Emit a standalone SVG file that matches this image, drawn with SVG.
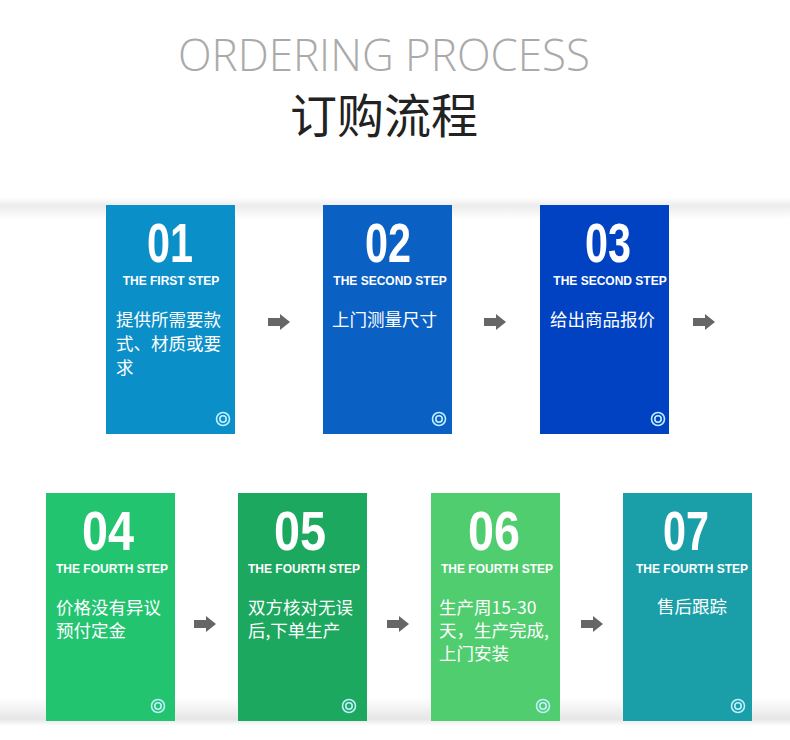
<svg xmlns="http://www.w3.org/2000/svg" width="790" height="740" viewBox="0 0 790 740">
<defs>
<linearGradient id="topShadow" x1="0" y1="0" x2="0" y2="1">
<stop offset="0" stop-color="#ffffff"/>
<stop offset="0.4" stop-color="#ececec"/>
<stop offset="1" stop-color="#ffffff"/>
</linearGradient>
<linearGradient id="botShadow" x1="0" y1="0" x2="0" y2="1">
<stop offset="0" stop-color="#ffffff"/>
<stop offset="0.75" stop-color="#e6e6e6"/>
<stop offset="1" stop-color="#ffffff"/>
</linearGradient>
<g id="arrow"><path d="M-11,-4 H1 V-8 L11,0 L1,8 V4 H-11 Z" fill="#666666"/></g>
<g id="ring"><circle r="6.5" fill="none" stroke="#bff0ff" stroke-width="1.6"/><circle r="3.2" fill="none" stroke="#bff0ff" stroke-width="1.6"/></g>
</defs>
<style>
.num{font-family:"Liberation Sans","DejaVu Sans",sans-serif;font-weight:bold;font-size:56px;fill:#ffffff;text-anchor:middle}
.step{font-family:"Liberation Sans",Arial,sans-serif;font-weight:bold;font-size:12px;fill:#ffffff;text-anchor:middle}
.body{font-family:"Noto Sans CJK SC","Noto Sans",sans-serif;font-size:17.5px;fill:#ffffff}
</style>
<rect width="790" height="740" fill="#ffffff"/>
<rect x="0" y="197" width="790" height="22" fill="url(#topShadow)"/>
<rect x="0" y="698" width="790" height="28" fill="url(#botShadow)"/>
<text x="384" y="71" font-family="'Open Sans','Noto Sans',sans-serif" font-weight="300" font-size="45" fill="#aaaaaa" text-anchor="middle" textLength="412" lengthAdjust="spacingAndGlyphs">ORDERING PROCESS</text>
<text x="384" y="133" font-family="'Noto Sans CJK SC',sans-serif" font-size="47" fill="#222222" text-anchor="middle">订购流程</text>

<g id="step1">
<rect x="106" y="205" width="129" height="229" fill="#0b8fc9"/>
<text class="num" x="170" y="262" textLength="46" lengthAdjust="spacingAndGlyphs">01</text>
<text class="step" x="171" y="285">THE FIRST STEP</text>
<text class="body"><tspan x="116" y="326">提供所需要款</tspan><tspan x="116" y="350">式、材质或要</tspan><tspan x="116" y="374">求</tspan></text>
<use href="#ring" x="223" y="419"/>
</g>
<g id="step2">
<rect x="323" y="205" width="129" height="229" fill="#0b60c4"/>
<text class="num" x="388" y="262" textLength="46" lengthAdjust="spacingAndGlyphs">02</text>
<text class="step" x="390" y="285">THE SECOND STEP</text>
<text class="body"><tspan x="332" y="326">上门测量尺寸</tspan></text>
<use href="#ring" x="439" y="419"/>
</g>
<g id="step3">
<rect x="540" y="205" width="129" height="229" fill="#0042c2"/>
<text class="num" x="608" y="262" textLength="46" lengthAdjust="spacingAndGlyphs">03</text>
<text class="step" x="610" y="285">THE SECOND STEP</text>
<text class="body"><tspan x="550" y="326">给出商品报价</tspan></text>
<use href="#ring" x="658" y="419"/>
</g>
<g id="step4">
<rect x="46" y="493" width="129" height="228" fill="#22c46f"/>
<text class="num" x="108" y="550" textLength="52" lengthAdjust="spacingAndGlyphs">04</text>
<text class="step" x="112" y="573">THE FOURTH STEP</text>
<text class="body"><tspan x="56" y="614">价格没有异议</tspan><tspan x="56" y="637">预付定金</tspan></text>
<use href="#ring" x="158" y="706"/>
</g>
<g id="step5">
<rect x="238" y="493" width="129" height="228" fill="#1ca85e"/>
<text class="num" x="300" y="550" textLength="52" lengthAdjust="spacingAndGlyphs">05</text>
<text class="step" x="304" y="573">THE FOURTH STEP</text>
<text class="body"><tspan x="248" y="614">双方核对无误</tspan><tspan x="248" y="637">后,下单生产</tspan></text>
<use href="#ring" x="349" y="706"/>
</g>
<g id="step6">
<rect x="431" y="493" width="129" height="228" fill="#50cd6f"/>
<text class="num" x="494" y="550" textLength="52" lengthAdjust="spacingAndGlyphs">06</text>
<text class="step" x="497" y="573">THE FOURTH STEP</text>
<text class="body"><tspan x="439" y="614">生产周15-30</tspan><tspan x="439" y="637">天，生产完成,</tspan><tspan x="439" y="660">上门安装</tspan></text>
<use href="#ring" x="543" y="706"/>
</g>
<g id="step7">
<rect x="623" y="493" width="129" height="228" fill="#1a9fa8"/>
<text class="num" x="686" y="550" textLength="46" lengthAdjust="spacingAndGlyphs">07</text>
<text class="step" x="692" y="573">THE FOURTH STEP</text>
<text class="body" text-anchor="middle"><tspan x="692" y="613">售后跟踪</tspan></text>
<use href="#ring" x="738" y="706"/>
</g>

<g id="connectors">
<use href="#arrow" x="279" y="322"/>
<use href="#arrow" x="495" y="322"/>
<use href="#arrow" x="704" y="322"/>
<use href="#arrow" x="205" y="624"/>
<use href="#arrow" x="398" y="624"/>
<use href="#arrow" x="592" y="624"/>
</g>
</svg>
